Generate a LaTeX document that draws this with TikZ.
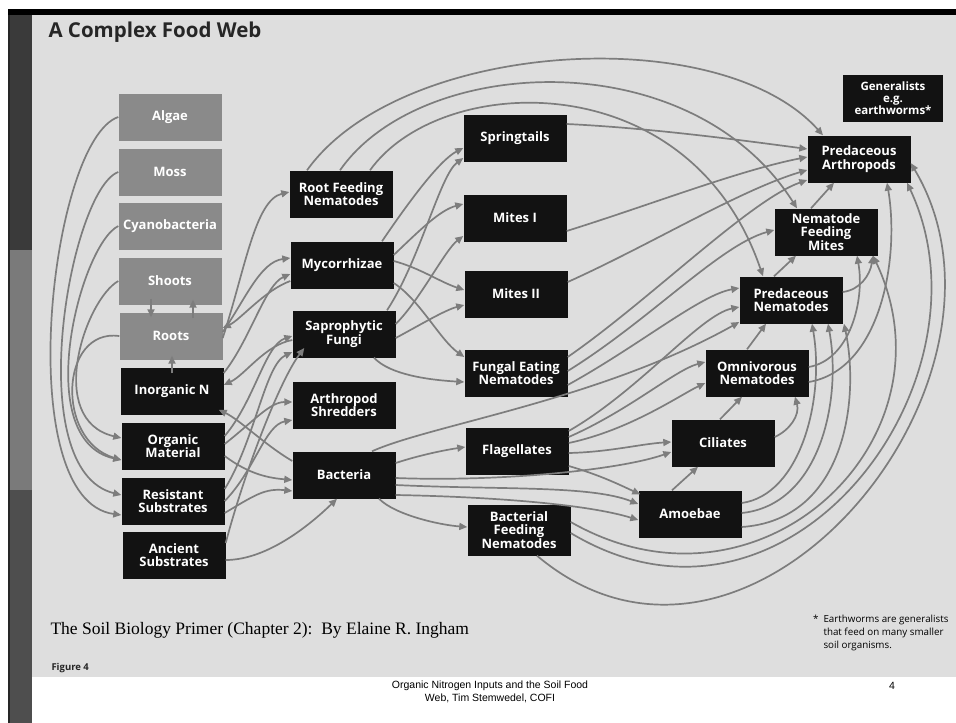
\documentclass[tikz,border=0pt]{standalone}
\usepackage{fontspec}
\setmainfont{Liberation Serif}
\setsansfont{Open Sans}
\newfontfamily\narrowfont{Liberation Sans}
\usepackage{xcolor}
\usepackage{tikz}
\usetikzlibrary{
    calc,
    arrows.meta
}
\definecolor{bggrey}{RGB}{222,222,222}
\definecolor{plantgrey}{RGB}{138,138,138}
\definecolor{linkgrey}{RGB}{125,125,125}
\definecolor{bardark}{RGB}{58,58,58}
\definecolor{barmid}{RGB}{122,122,122}
\definecolor{barlow}{RGB}{78,78,78}
\definecolor{boxblack}{RGB}{18,18,18}
\tikzset{
    organism/.style={fill=boxblack, text=white, minimum width=103pt, minimum height=47pt,
        inner sep=1pt, align=center, font=\sffamily\bfseries\fontsize{13}{13.5}\selectfont},
    plant/.style={organism, fill=plantgrey},
    feed/.style={->, draw=linkgrey, line width=1.7pt},
    >={Triangle[length=8pt,width=7pt]}
}

\begin{document}
\begin{tikzpicture}[x=1pt, y=1pt]
        \useasboundingbox (0,0) rectangle (956,-723);
        \fill[white]   (0,0)     rectangle (956,-723);
        \fill[bggrey]  (32,-14)  rectangle (956,-677);
        \fill[bardark] (8,-10)   rectangle (32,-250);
        \fill[barmid]  (10,-250) rectangle (32,-490);
        \fill[barlow]  (8,-490)  rectangle (32,-723);
        \fill[black!85] (8,-10)  rectangle (10,-723);
        \fill[black]   (8,-9)    rectangle (956,-15);

        \draw (45,-32) node[anchor=west, text=black!85, font=\sffamily\bfseries\fontsize{20.5}{24}\selectfont] (title) {A Complex Food Web};

        % producers and soil pools
        \draw (170,-117) node[plant] (algae)  {Algae};
        \draw (170,-172) node[plant] (moss)   {Moss};
        \draw (170,-226) node[plant] (cyano)  {Cyanobacteria};
        \draw (170,-281) node[plant] (shoots) {Shoots};
        \draw (171,-336) node[plant] (roots)  {Roots};
        \draw (172,-391) node[organism] (inorgN) {Inorganic N};
        \draw (173,-446) node[organism] (orgMat) {Organic\\Material};
        \draw (173,-501) node[organism] (resSub) {Resistant\\Substrates};
        \draw (174,-555) node[organism] (ancSub) {Ancient\\Substrates};

        % first consumers
        \draw (341,-194) node[organism] (rfn)   {Root Feeding\\Nematodes};
        \draw (342,-265) node[organism] (myco)  {Mycorrhizae};
        \draw (344,-334) node[organism] (sapro) {Saprophytic\\Fungi};
        \draw (344,-405) node[organism] (shred) {Arthropod\\Shredders};
        \draw (344,-475) node[organism] (bact)  {Bacteria};

        \draw (515,-138) node[organism] (spring)  {Springtails};
        \draw (515,-218) node[organism] (mitesI)  {Mites I};
        \draw (516,-294) node[organism] (mitesII) {Mites II};
        \draw (516,-373) node[organism] (fen)     {Fungal Eating\\Nematodes};
        \draw (517,-451) node[organism] (flag)    {Flagellates};
        \draw (519,-530) node[organism, minimum height=51pt] (bfn) {Bacterial\\Feeding\\Nematodes};

        % predators
        \draw (723,-443) node[organism] (cil)      {Ciliates};
        \draw (690,-514) node[organism] (amoe)     {Amoebae};
        \draw (757,-373) node[organism] (omni)     {Omnivorous\\Nematodes};
        \draw (791,-300) node[organism] (predNem)  {Predaceous\\Nematodes};
        \draw (826,-232) node[organism] (nfm)      {Nematode\\Feeding\\Mites};
        \draw (859,-159) node[organism] (predArth) {Predaceous\\Arthropods};
        \draw (893,-98.5) node[organism, minimum width=100pt, font=\sffamily\bfseries\fontsize{11.5}{12}\selectfont] (gen) {Generalists\\e.g.\\earthworms*};

        % left bundle
        \draw[feed] (algae.west)  .. controls (50,-140) and (10,-500) .. ([yshift=-14pt]resSub.west);
        \draw[feed] (moss.west)   .. controls (70,-190) and (20,-470) .. ([yshift=6pt]resSub.west);
        \draw[feed] (cyano.west)  .. controls (80,-245) and (30,-440) .. ([yshift=-14pt]orgMat.west);
        \draw[feed] (shoots.west) .. controls (85,-300) and (45,-420) .. ([yshift=8pt]orgMat.west);
        \draw[feed] (roots.west)  .. controls (60,-328) and (55,-440) .. ([yshift=-14pt]orgMat.west);

        \draw[feed] ([xshift=-19pt,yshift=6pt]shoots.south) -- ([xshift=-20pt,yshift=-5pt]roots.north);
        \draw[feed] ([xshift=22pt,yshift=-6pt]roots.north)  -- ([xshift=23pt,yshift=5pt]shoots.south);
        \draw[feed] ([yshift=-6pt]inorgN.north) -- ([xshift=1pt,yshift=4pt]roots.south);

        \draw[feed] ([yshift=-2pt]roots.east)  .. controls (245,-270) and (255,-200) .. ([yshift=2pt]rfn.west);
        \draw[feed] ([yshift=4pt]roots.east)   .. controls (245,-300) and (260,-262) .. ([yshift=7pt]myco.west);
        \draw[feed] ([yshift=-16pt]myco.west)  .. controls (265,-290) and (240,-320) .. ([yshift=8pt]roots.east);
        \draw[feed] ([yshift=18pt]inorgN.east) .. controls (250,-340) and (265,-285) .. ([yshift=-9pt]myco.west);
        \draw[feed] ([yshift=-6pt]sapro.west)  .. controls (265,-345) and (245,-375) .. ([yshift=6pt]inorgN.east);
        \draw[feed] ([yshift=14pt]bact.west)   .. controls (265,-445) and (240,-420) .. ([xshift=-5pt,yshift=5pt]inorgN.south east);

        \draw[feed] ([yshift=10pt]orgMat.east)  .. controls (255,-400) and (265,-345) .. ([yshift=-2pt]sapro.west);
        \draw[feed] ([yshift=2pt]orgMat.east)   .. controls (255,-420) and (270,-402) .. ([yshift=3pt]shred.west);
        \draw[feed] ([yshift=-10pt]orgMat.east) .. controls (250,-475) and (270,-478) .. ([yshift=-5pt]bact.west);
        \draw[feed] ([yshift=12pt]resSub.east)  .. controls (255,-440) and (265,-365) .. ([yshift=-18pt]sapro.west);
        \draw[feed] (resSub.east)               .. controls (255,-470) and (265,-425) .. ([yshift=-15pt]shred.west);
        \draw[feed] ([yshift=-12pt]resSub.east) .. controls (255,-495) and (265,-488) .. ([yshift=-16pt]bact.west);
        \draw[feed] ([yshift=12pt]ancSub.east)  .. controls (245,-470) and (280,-380) .. ([xshift=12pt,yshift=-14pt]sapro.west);
        \draw[feed] ([yshift=-5pt]ancSub.east)  .. controls (270,-560) and (315,-520) .. ([xshift=-7pt]bact.south);

        % fungal and bacterial feeders
        \draw[feed] ([xshift=40pt]myco.north)  .. controls (410,-200) and (440,-160) .. ([yshift=-10pt]spring.west);
        \draw[feed] ([yshift=10pt]myco.east)   .. controls (420,-230) and (440,-210) .. ([yshift=14pt]mitesI.west);
        \draw[feed] ([yshift=4pt]myco.east)    .. controls (420,-268) and (440,-282) .. ([yshift=4pt]mitesII.west);
        \draw[feed] ([yshift=-18pt]myco.east)  .. controls (420,-300) and (440,-340) .. ([yshift=16pt]fen.west);
        \draw[feed] ([xshift=43pt]sapro.north) .. controls (420,-260) and (440,-175) .. ([yshift=-20pt]spring.west);
        \draw[feed] ([yshift=10pt]sapro.east)  .. controls (420,-300) and (445,-250) .. ([yshift=-18pt]mitesI.west);
        \draw[feed] ([yshift=-4pt]sapro.east)  .. controls (420,-325) and (445,-310) .. ([yshift=-11pt]mitesII.west);
        \draw[feed] ([xshift=30pt]sapro.south) .. controls (390,-375) and (430,-380) .. ([yshift=-9pt]fen.west);
        \draw[feed] ([yshift=12pt]bact.east)   .. controls (420,-455) and (445,-450) .. ([yshift=4pt]flag.west);
        \draw[feed] ([xshift=35pt]bact.south)  .. controls (395,-515) and (440,-525) .. ([yshift=3pt]bfn.west);

        % up to the predators
        \draw[feed] ([yshift=14pt]spring.east)  .. controls (650,-128) and (740,-140) .. ([yshift=10pt]predArth.west);
        \draw[feed] ([yshift=-13pt]mitesI.east) .. controls (650,-205) and (740,-170) .. ([yshift=2pt]predArth.west);
        \draw[feed] ([yshift=12pt]mitesII.east) .. controls (650,-245) and (740,-190) .. ([yshift=-11pt]predArth.west);
        \draw[feed] ([yshift=16pt]fen.east)     .. controls (650,-300) and (750,-200) .. ([yshift=-21pt]predArth.west);
        \draw[feed] ([yshift=2pt]fen.east)      .. controls (650,-320) and (720,-245) .. ([yshift=2pt]nfm.west);
        \draw[feed] ([yshift=-12pt]fen.east)    .. controls (640,-345) and (700,-295) .. ([yshift=12pt]predNem.west);
        \draw[feed] ([yshift=20pt]flag.east)    .. controls (640,-390) and (700,-315) .. ([yshift=-7pt]predNem.west);
        \draw[feed] ([yshift=14pt]flag.east)    .. controls (630,-410) and (675,-370) .. ([yshift=11pt]omni.west);
        \draw[feed] ([yshift=8pt]flag.east)     .. controls (630,-430) and (680,-395) .. ([yshift=-10pt]omni.west);
        \draw[feed] ([xshift=28pt]bact.north)   .. controls (430,-425) and (600,-400) .. ([yshift=-22pt]predNem.west);

        \draw[feed] ([yshift=-2pt]flag.east)  .. controls (610,-452) and (640,-444) .. ([yshift=1pt]cil.west);
        \draw[feed] ([yshift=-3pt]bact.east)  .. controls (500,-482) and (620,-470) .. ([yshift=-9pt]cil.west);
        \draw[feed] ([yshift=-15pt]flag.east) .. controls (600,-475) and (620,-485) .. ([xshift=2pt,yshift=-4pt]amoe.north west);
        \draw[feed] ([yshift=-10pt]bact.east) .. controls (500,-490) and (590,-485) .. ([yshift=10pt]amoe.west);
        \draw[feed] ([yshift=-20pt]bact.east) .. controls (500,-497) and (590,-505) .. ([yshift=-6pt]amoe.west);

        \draw[feed] ([xshift=-18pt]amoe.north)    -- ([xshift=-25pt]cil.south);
        \draw[feed] ([xshift=-3pt]cil.north)      -- ([xshift=-15pt]omni.south);
        \draw[feed] ([xshift=-10pt]omni.north)    -- ([xshift=-25pt]predNem.south);
        \draw[feed] ([xshift=-17pt]predNem.north) -- ([xshift=-30pt]nfm.south);
        \draw[feed] ([xshift=-15pt]nfm.north)     -- ([xshift=-25pt]predArth.south);
        \draw[feed] ([yshift=6pt]cil.east)      .. controls (790,-430) and (800,-415) .. ([xshift=38pt]omni.south);
        \draw[feed] ([yshift=8pt]predNem.east)  .. controls (860,-290) and (870,-275) .. ([xshift=47pt]nfm.south);
        \draw[feed] ([yshift=6pt]omni.east)     .. controls (850,-360) and (865,-300) .. ([xshift=31pt]nfm.south);
        \draw[feed] ([yshift=-9pt]omni.east)    .. controls (880,-370) and (900,-260) .. ([xshift=28pt]predArth.south);

        % long arcs on the right
        \draw[feed] ([yshift=11pt]amoe.east)  .. controls (800,-495) and (825,-400) .. ([xshift=21pt]predNem.south);
        \draw[feed] ([yshift=1pt]amoe.east)   .. controls (820,-505) and (842,-400) .. ([xshift=37pt]predNem.south);
        \draw[feed] ([yshift=-13pt]amoe.east) .. controls (845,-520) and (860,-400) .. ([xshift=53pt]predNem.south);
        \draw[feed] ([yshift=8pt]bfn.east)    .. controls (760,-630) and (960,-440) .. ([xshift=47pt]nfm.south);
        \draw[feed] ([yshift=-3pt]bfn.east)   .. controls (790,-665) and (1000,-380) .. ([xshift=48pt]predArth.south);
        \draw[feed] ([xshift=18pt]bfn.south)  .. controls (750,-735) and (1040,-380) .. ([yshift=-4pt]predArth.east);

        % arcs over the top
        \draw[feed] ([xshift=-34pt]rfn.north) .. controls (400,-40) and (720,-20) .. ([xshift=-36pt]predArth.north);
        \draw[feed] ([xshift=-1pt]rfn.north)  .. controls (420,-55) and (690,-40) .. ([xshift=-29pt]nfm.north);
        \draw[feed] ([xshift=29pt]rfn.north)  .. controls (440,-72) and (690,-62) .. ([xshift=-28pt]predNem.north);

        \draw (47,-630) node[anchor=west, font=\fontsize{17.5}{19}\selectfont] (source) {The Soil Biology Primer (Chapter 2):\ \ By Elaine R. Ingham};
        \draw (48,-668) node[anchor=west, text=black!85, font=\sffamily\bfseries\fontsize{9.5}{10}\selectfont] (figno) {Figure 4};
        \draw (820,-633) node[anchor=west, align=left, font=\sffamily\fontsize{9.8}{13}\selectfont] (note) {\llap{*\ \ }Earthworms are generalists\\that feed on many smaller\\soil organisms.};
        \draw (490,-692) node[align=center, font=\narrowfont\fontsize{10.5}{13}\selectfont] (footer) {Organic Nitrogen Inputs and the Soil Food\\Web, Tim Stemwedel, COFI};
        \draw (892,-686) node[font=\narrowfont\fontsize{10.5}{12}\selectfont] (page) {4};
    \end{tikzpicture}
\end{document}
